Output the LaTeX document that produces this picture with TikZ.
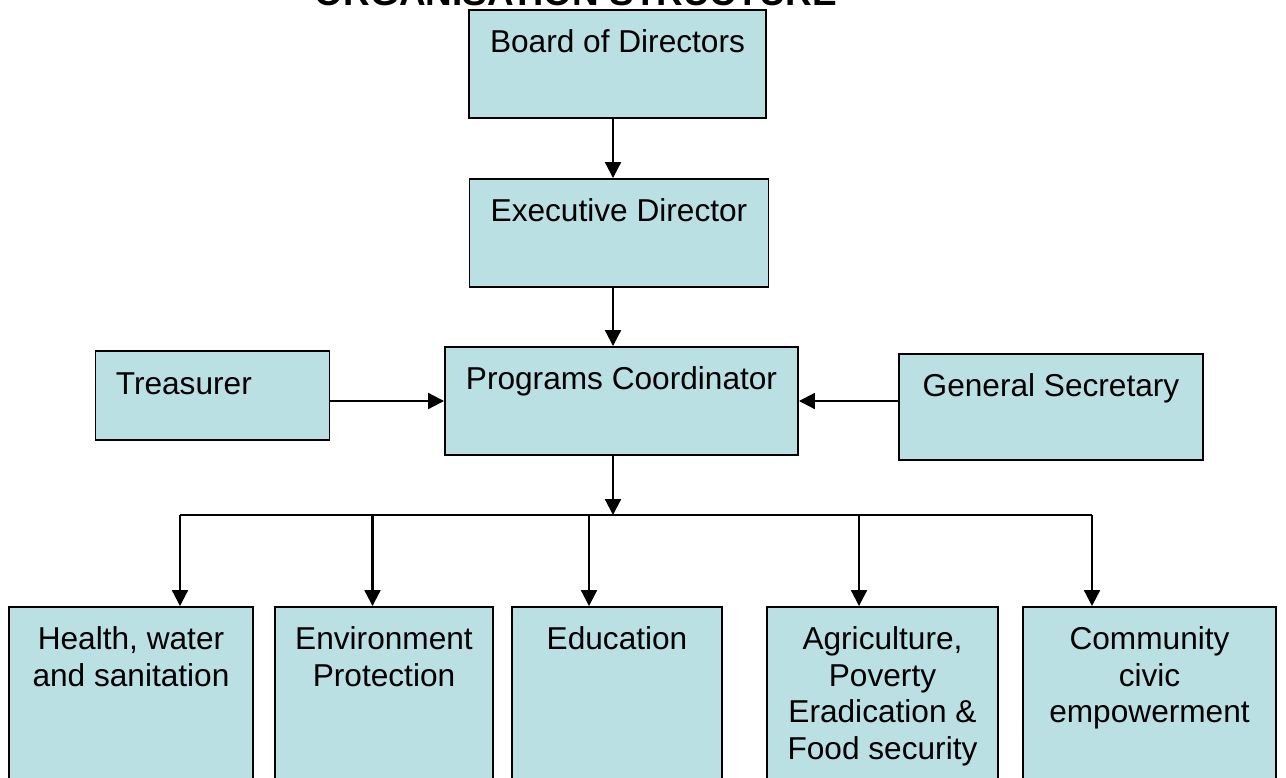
\documentclass[tikz,border=0pt]{standalone}
\usepackage{fontspec}
\setmainfont{Liberation Sans}
\usetikzlibrary{arrows.meta,positioning}
\definecolor{boxblue}{RGB}{186,224,228}

\begin{document}
\begin{tikzpicture}
		[block/.style ={rectangle, draw=black, line width=1.1pt, fill=boxblue, inner sep=0pt},
		txt/.style ={anchor=north, align=center, inner sep=0pt, yshift=-0.40cm, font=\fontsize{18}{20.9}\selectfont},
		lefttxt/.style ={txt, anchor=north west, xshift=0.42cm, yshift=-0.05cm},
		line/.style ={line width=1.2pt, -{Triangle[length=9pt,width=9pt]}},
		bus/.style ={draw, line width=0.9pt},
		]
		\useasboundingbox (0,0) rectangle (25.72,-15.56);
		\clip (0,0) rectangle (25.72,-15.56);

		\node[font=\bfseries\fontsize{21}{25}\selectfont, anchor=base] (title) at (11.52,-0.12) {ORGANISATION STRUCTURE};

		\draw (12.35,-1.28) node[block, minimum width=5.94cm, minimum height=2.16cm, label={[txt]north:Board of Directors}] (board) {};
		\draw (12.38,-4.66) node[block, minimum width=5.98cm, minimum height=2.16cm, label={[txt]north:Executive Director}] (exec) {};
		\draw (12.43,-8.02) node[block, minimum width=7.06cm, minimum height=2.16cm, label={[txt]north:Programs Coordinator}] (coord) {};
		\draw (4.25,-7.91) node[block, minimum width=4.68cm, minimum height=1.78cm, label={[lefttxt]north west:Treasurer}] (treasurer) {};
		\draw (21.02,-8.14) node[block, minimum width=6.08cm, minimum height=2.12cm, label={[txt]north:General Secretary}] (secretary) {};

		\draw (2.62,-14.07) node[block, minimum width=4.87cm, minimum height=3.86cm, label={[txt]north:Health, water\\and sanitation}] (health) {};
		\draw (7.68,-14.07) node[block, minimum width=4.37cm, minimum height=3.86cm, label={[txt]north:Environment\\Protection}] (environment) {};
		\draw (12.34,-14.07) node[block, minimum width=4.20cm, minimum height=3.86cm, label={[txt]north:Education}] (education) {};
		\draw (17.65,-14.07) node[block, minimum width=4.61cm, minimum height=3.86cm, label={[txt]north:Agriculture,\\Poverty\\Eradication \&\\Food security}] (agriculture) {};
		\draw (22.99,-14.07) node[block, minimum width=5.05cm, minimum height=3.86cm, label={[txt]north:Community\\civic\\empowerment}] (community) {};

		% spine and bus
		\coordinate (spine) at (12.26,-10.30);
		\coordinate (drop-health) at (3.60,-10.30);
		\coordinate (drop-environment) at (7.45,-10.30);
		\coordinate (drop-education) at (11.78,-10.30);
		\coordinate (drop-agriculture) at (17.18,-10.30);
		\coordinate (drop-community) at (21.84,-10.30);

		\draw[bus] (drop-health) -- (drop-community);

		\path[line]
		(board.south -| spine) edge (exec.north -| spine)
		(exec.south -| spine) edge (coord.north -| spine)
		(coord.south -| spine) edge (spine)
		(treasurer.east |- coord) edge (coord.west)
		(secretary.west |- coord) edge (coord.east)
		(drop-health) edge (drop-health |- health.north)
		(drop-environment) edge (drop-environment |- environment.north)
		(drop-education) edge (drop-education |- education.north)
		(drop-agriculture) edge (drop-agriculture |- agriculture.north)
		(drop-community) edge (drop-community |- community.north);
	\end{tikzpicture}
\end{document}
